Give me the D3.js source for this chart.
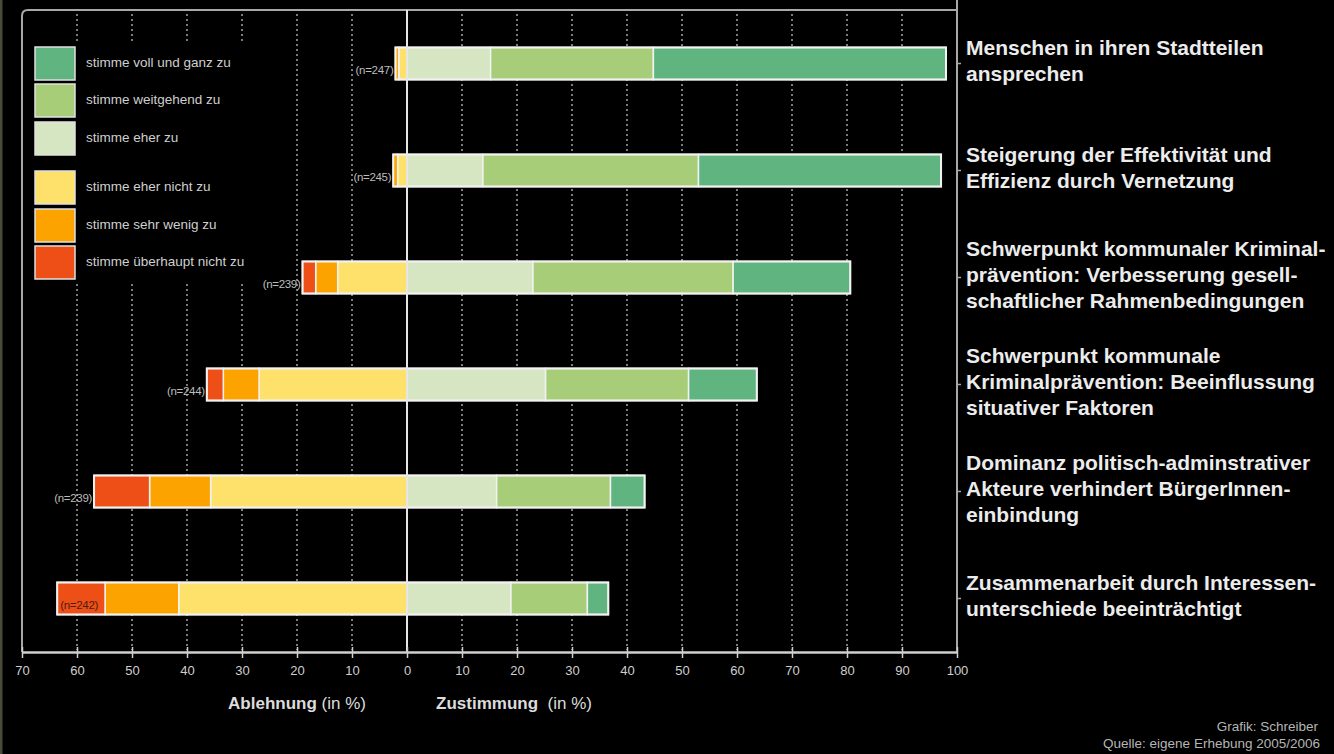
<!DOCTYPE html>
<html>
<head>
<meta charset="utf-8">
<script src="https://cdn.jsdelivr.net/npm/d3@7/dist/d3.min.js"></script>
<style>
  html, body { margin: 0; padding: 0; background: #000; }
  svg { display: block; }
</style>
</head>
<body>
<svg id="chart" width="1334" height="754"></svg>
<script>
// ---- DATA ----
const categories = [
  "Menschen in ihren Stadtteilen ansprechen",
  "Steigerung der Effektivität und Effizienz durch Vernetzung",
  "Schwerpunkt kommunaler Kriminalprävention: Verbesserung gesellschaftlicher Rahmenbedingungen",
  "Schwerpunkt kommunale Kriminalprävention: Beeinflussung situativer Faktoren",
  "Dominanz politisch-adminstrativer Akteure verhindert BürgerInnen-einbindung",
  "Zusammenarbeit durch Interessen-unterschiede beeinträchtigt"
];
const categoryLines = [
  ["Menschen in ihren Stadtteilen", "ansprechen"],
  ["Steigerung der Effektivität und", "Effizienz durch Vernetzung"],
  ["Schwerpunkt kommunaler Kriminal-", "prävention: Verbesserung gesell-", "schaftlicher Rahmenbedingungen"],
  ["Schwerpunkt kommunale", "Kriminalprävention: Beeinflussung", "situativer Faktoren"],
  ["Dominanz politisch-adminstrativer", "Akteure verhindert BürgerInnen-", "einbindung"],
  ["Zusammenarbeit durch Interessen-", "unterschiede beeinträchtigt"]
];
const nValues = [247, 245, 239, 244, 239, 242];

// agreement (positive side), from 0 outward
const stimmeEherZu        = [15.2, 13.8, 22.9, 25.2, 16.3, 18.9];
const stimmeWeitgehendZu  = [29.6, 39.2, 36.4, 26.0, 20.7, 13.9];
const stimmeVollUndGanzZu = [53.2, 44.1, 21.3, 12.4,  6.2,  3.8];
// rejection (negative side), from 0 outward
const stimmeEherNichtZu      = [1.5, 1.7, 12.6, 26.9, 35.7, 41.5];
const stimmeSehrWenigZu      = [0.6, 0.8,  4.0,  6.5, 11.1, 13.4];
const stimmeUeberhauptNichtZu= [0.0, 0.0,  2.4,  3.0, 10.1,  8.7];

const legendLabels = [
  "stimme voll und ganz zu",
  "stimme weitgehend zu",
  "stimme eher zu",
  "stimme eher nicht zu",
  "stimme sehr wenig zu",
  "stimme überhaupt nicht zu"
];
const xTicks = [-70,-60,-50,-40,-30,-20,-10,0,10,20,30,40,50,60,70,80,90,100];
const xTickLabels = ["70","60","50","40","30","20","10","0","10","20","30","40","50","60","70","80","90","100"];

// ---- STYLE ----
const colors = {
  voll: "#5fb47f", weit: "#a8cd78", eher: "#d6e6c3",
  nicht: "#fde16a", wenig: "#fda300", ueber: "#ee4f17"
};
const legendColors = [colors.voll, colors.weit, colors.eher, colors.nicht, colors.wenig, colors.ueber];
const FONT = "Liberation Sans, Arial, sans-serif";

const svg = d3.select("#chart");
svg.append("rect").attr("width", 1334).attr("height", 754).attr("fill", "#000");
svg.append("rect").attr("x", 0).attr("y", 0).attr("width", 2.5).attr("height", 754).attr("fill", "#4a4a3a");

const pLeft = 22, pRight = 957, pTop = 10, pBottom = 652;
const x = d3.scaleLinear().domain([-70, 100]).range([pLeft, pRight]);
const y = d3.scaleBand().domain(categories).range([pTop, pBottom]).paddingInner(0.7).paddingOuter(0.35);

// gridlines (dotted)
svg.append("g").selectAll("line")
  .data(xTicks.filter(t => t !== 0 && t !== -70 && t !== 100))
  .join("line")
  .attr("x1", d => x(d)).attr("x2", d => x(d))
  .attr("y1", pTop + 4).attr("y2", pBottom - 2)
  .attr("stroke", "#9a9a9a").attr("stroke-width", 1.6)
  .attr("stroke-dasharray", "2,3");

// frame: left + top (rounded corner), right axis line
svg.append("path")
  .attr("d", `M${pLeft},${pBottom} L${pLeft},${pTop + 6} Q${pLeft},${pTop} ${pLeft + 6},${pTop} L${pRight},${pTop}`)
  .attr("fill", "none").attr("stroke", "#a8a8a8").attr("stroke-width", 2);
svg.append("line")
  .attr("x1", pRight).attr("x2", pRight).attr("y1", 0).attr("y2", pBottom)
  .attr("stroke", "#a8a8a8").attr("stroke-width", 2);
// right axis ticks
svg.append("g").selectAll("line").data(categories).join("line")
  .attr("x1", pRight).attr("x2", pRight + 4)
  .attr("y1", d => y(d) + y.bandwidth() / 2).attr("y2", d => y(d) + y.bandwidth() / 2)
  .attr("stroke", "#a8a8a8").attr("stroke-width", 1.5);

// legend background (hides gridlines behind legend)
svg.append("rect").attr("x", 26).attr("y", 44).attr("width", 266).attr("height", 240).attr("fill", "#000");

// bars
const rows = categories.map((c, i) => {
  const segs = [];
  let pos = 0;
  [[stimmeEherZu[i], colors.eher], [stimmeWeitgehendZu[i], colors.weit], [stimmeVollUndGanzZu[i], colors.voll]]
    .forEach(([v, col]) => { if (v > 0) segs.push({x0: pos, x1: pos + v, col}); pos += v; });
  let neg = 0;
  [[stimmeEherNichtZu[i], colors.nicht], [stimmeSehrWenigZu[i], colors.wenig], [stimmeUeberhauptNichtZu[i], colors.ueber]]
    .forEach(([v, col]) => { if (v > 0) segs.push({x0: neg - v, x1: neg, col}); neg -= v; });
  return {cat: c, segs, minV: neg, maxV: pos, n: nValues[i], i};
});

const barG = svg.append("g");
rows.forEach(r => {
  const g = barG.append("g");
  g.selectAll("rect").data(r.segs).join("rect")
    .attr("x", d => x(d.x0)).attr("width", d => x(d.x1) - x(d.x0))
    .attr("y", y(r.cat)).attr("height", y.bandwidth())
    .attr("fill", d => d.col)
    .attr("stroke", "#f2f2f2").attr("stroke-width", 1.5);
  g.append("rect")
    .attr("x", x(r.minV)).attr("width", x(r.maxV) - x(r.minV))
    .attr("y", y(r.cat)).attr("height", y.bandwidth())
    .attr("fill", "none").attr("stroke", "#f2f2f2").attr("stroke-width", 2);
  const inside = x(r.minV) < 70;
  g.append("text")
    .attr("x", inside ? x(r.minV) + 3 : x(r.minV) - 2)
    .attr("y", y(r.cat) + 27)
    .attr("text-anchor", inside ? "start" : "end")
    .attr("font-family", FONT)
    .attr("font-size", 11.5)
    .attr("letter-spacing", -0.3)
    .attr("fill", inside ? "#4a2010" : "#bdbdbd")
    .text(`(n=${r.n})`);
});

// zero line
svg.append("line")
  .attr("x1", x(0)).attr("x2", x(0)).attr("y1", pTop).attr("y2", pBottom)
  .attr("stroke", "#e6e6e6").attr("stroke-width", 2);

// bottom axis
const axisG = svg.append("g").attr("transform", `translate(0,${pBottom})`);
const xAxis = d3.axisBottom(x).tickValues(xTicks).tickFormat((d, i) => xTickLabels[i]).tickSize(6).tickSizeOuter(0);
axisG.call(xAxis);
axisG.select(".domain").attr("stroke", "#cfcfcf").attr("stroke-width", 2.5);
axisG.selectAll(".tick line").attr("stroke", "#cfcfcf").attr("stroke-width", 1.5).attr("y1", -5).attr("y2", 6);
axisG.selectAll(".tick text")
  .attr("fill", "#cfcfcf").attr("font-size", 13).attr("dy", "1.1em")
  .attr("font-family", FONT);

// axis titles
const t1 = svg.append("text").attr("x", 297).attr("y", 709).attr("text-anchor", "middle")
  .attr("font-family", FONT).attr("font-size", 17).attr("fill", "#dcdcdc");
t1.append("tspan").attr("font-weight", "bold").text("Ablehnung");
t1.append("tspan").text(" (in %)");
const t2 = svg.append("text").attr("x", 514).attr("y", 709).attr("text-anchor", "middle")
  .attr("font-family", FONT).attr("font-size", 17).attr("fill", "#dcdcdc");
t2.append("tspan").attr("font-weight", "bold").text("Zustimmung");
t2.append("tspan").text("\u00a0 (in %)");

// category labels
const labG = svg.append("g");
categories.forEach((c, i) => {
  const lines = categoryLines[i];
  const yc = y(c) + y.bandwidth() / 2 - 3;
  lines.forEach((ln, j) => {
    labG.append("text")
      .attr("x", 966)
      .attr("y", yc + (j - (lines.length - 1) / 2) * 26 + 7)
      .attr("font-family", FONT)
      .attr("font-weight", "bold").attr("font-size", 21)
      .attr("fill", "#ececec")
      .text(ln);
  });
});

// legend
const legendTops = [47, 84, 122, 171, 209, 246];
const legG = svg.append("g");
legendLabels.forEach((lab, i) => {
  legG.append("rect")
    .attr("x", 35).attr("y", legendTops[i]).attr("width", 40).attr("height", 33)
    .attr("fill", legendColors[i]).attr("stroke", "#e0e0e0").attr("stroke-width", 1.5);
  legG.append("text")
    .attr("x", 86).attr("y", legendTops[i] + 20)
    .attr("font-family", FONT).attr("font-size", 13.5)
    .attr("fill", "#cfcfcf").text(lab);
});

// credits
svg.append("text").attr("x", 1318).attr("y", 731).attr("text-anchor", "end")
  .attr("font-family", FONT).attr("font-size", 13.5).attr("fill", "#b5b5b5")
  .text("Grafik: Schreiber");
svg.append("text").attr("x", 1320).attr("y", 748).attr("text-anchor", "end")
  .attr("font-family", FONT).attr("font-size", 13.5).attr("fill", "#b5b5b5")
  .text("Quelle: eigene Erhebung 2005/2006");
</script>
</body>
</html>
